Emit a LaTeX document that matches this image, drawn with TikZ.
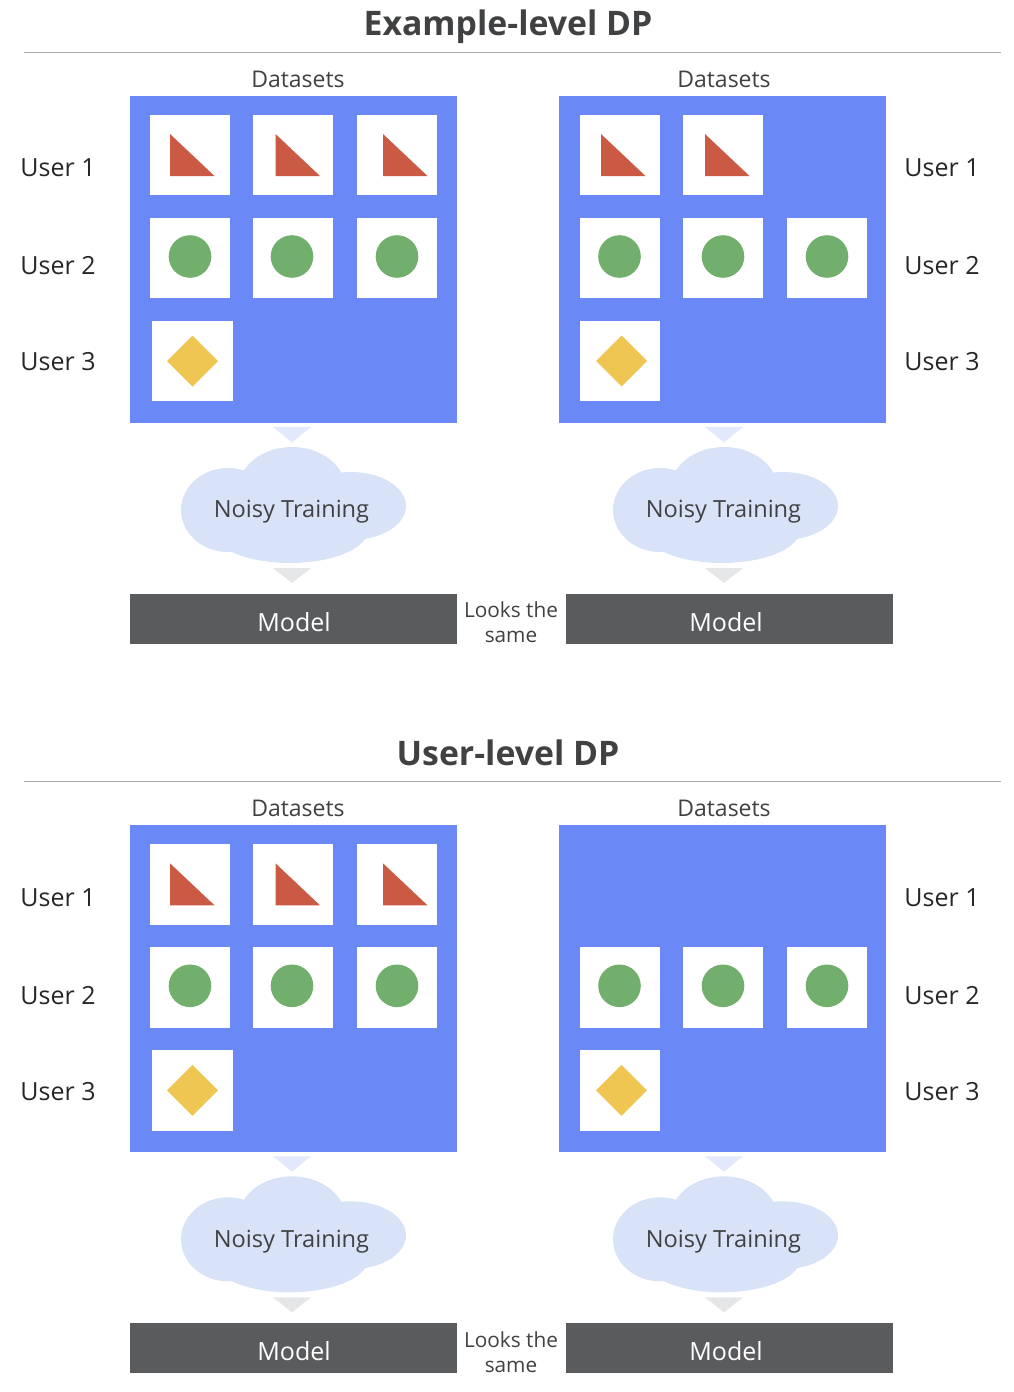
\documentclass[tikz,border=0pt]{standalone}
\usepackage{fontspec}
\setmainfont{Open Sans}
\definecolor{dsblue}{HTML}{6A89F6}
\definecolor{cloudblue}{HTML}{D9E3F7}
\definecolor{arrowblue}{HTML}{E3E9FC}
\definecolor{arrowgrey}{HTML}{E5E6E7}
\definecolor{barcol}{HTML}{5A5B5D}
\definecolor{redtri}{HTML}{CB5A45}
\definecolor{greencirc}{HTML}{72AF6D}
\definecolor{yellowdia}{HTML}{EEC651}
\definecolor{inkcol}{HTML}{404142}
\definecolor{rulecol}{HTML}{A9A9A9}
\tikzset{
  x=1pt,y=-1pt,
  txt/.style={inner sep=0pt,text=inkcol,align=center},
  titletxt/.style={txt,font=\fontsize{33.8}{40}\selectfont\bfseries},
  headtxt/.style={txt,font=\fontsize{23}{27}\selectfont},
  usertxt/.style={txt,text=black!85,font=\fontsize{25}{30}\selectfont},
  cloudtxt/.style={txt,font=\fontsize{23.6}{28}\selectfont},
  looks/.style={txt,font=\fontsize{20.8}{25}\selectfont},
  dataset/.style={fill=dsblue,draw=none,minimum width=327pt,minimum height=327pt,inner sep=0pt,anchor=north west},
  cell/.style={fill=white,draw=none,minimum width=80.5pt,minimum height=80.5pt,inner sep=0pt,anchor=north west},
  bar/.style={fill=barcol,draw=none,minimum height=50pt,inner sep=0pt,anchor=north west},
  modeltxt/.style={text=white,inner sep=0pt,font=\fontsize{25}{30}\selectfont},
  rtri/.style={fill=redtri},
  gcirc/.style={fill=greencirc},
  ydia/.style={fill=yellowdia},
}
\newcommand{\trishape}[2]{\fill[rtri] (#1,#2) -- (#1,#2+42) -- (#1+44.5,#2+42) -- cycle;}
\newcommand{\circshape}[2]{\fill[gcirc] (#1,#2) circle[radius=21.3];}
\newcommand{\diashape}[2]{\fill[ydia] (#1-25.5,#2) -- (#1,#2-25.5) -- (#1+25.5,#2) -- (#1,#2+25.5) -- cycle;}
\newcommand{\cloudshape}[1]{%
  \begin{scope}[xshift=#1 pt]
  \fill[cloudblue] (228,510) ellipse[x radius=47,y radius=42];
  \fill[cloudblue] (351,506) ellipse[x radius=55,y radius=34];
  \fill[cloudblue] (292,490) ellipse[x radius=54,y radius=43];
  \fill[cloudblue] (290,530) ellipse[x radius=78,y radius=33];
  \fill[cloudblue] (240,480) rectangle (345,530);
  \end{scope}}
\newcommand{\flow}[5]{% prefix, shift, bar x, bar w, bar text cx
  \fill[arrowblue] (273+#2,427) -- (311+#2,427) -- (292+#2,442.5) -- cycle;
  \cloudshape{#2}
  \node[cloudtxt] (#1cl) at (291.5+#2,512) {Noisy Training};
  \fill[arrowgrey] (273+#2,568) -- (311+#2,568) -- (292+#2,583) -- cycle;
  \node[bar,minimum width=#4 pt] (#1bar) at (#3,593.6) {};
  \node[modeltxt] (#1mod) at (#5,622) {Model};
}
\newcommand{\labelsset}[2]{%
  \node[usertxt] (#1a) at (#2,168) {User 1};
  \node[usertxt] (#1b) at (#2,266) {User 2};
  \node[usertxt] (#1c) at (#2,362) {User 3};
}
\newcommand{\leftpanel}[1]{%
  \node[headtxt] (#1dh) at (298,79) {Datasets};
  \node[dataset] (#1d) at (129.3,95.5) {};
  \foreach \cx/\tx/\ccx [count=\i] in {149.5/170/190,252.6/275.5/292,356.6/383/397}{
    \node[cell] (#1u\i) at (\cx,114.6) {};
    \trishape{\tx}{134}
    \node[cell] (#1v\i) at (\cx,217.6) {};
    \circshape{\ccx}{256.5}
  }
  \node[cell] (#1k) at (151.8,320.6) {};
  \diashape{192.5}{361}
}
\newcommand{\rightpanel}[2]{%
  \node[headtxt] (#1dh) at (724,79) {Datasets};
  \node[dataset] (#1d) at (559.2,95.5) {};
  \ifnum#2=1
  \foreach \cx/\tx [count=\i] in {579.5/601,682.6/705}{
    \node[cell] (#1u\i) at (\cx,114.6) {};
    \trishape{\tx}{134}
  }
  \fi
  \foreach \cx/\ccx [count=\i] in {579.5/619.5,682.6/723,786.6/827}{
    \node[cell] (#1v\i) at (\cx,217.6) {};
    \circshape{\ccx}{256.5}
  }
  \node[cell] (#1k) at (579.6,320.6) {};
  \diashape{621.5}{361}
}
\newcommand{\dpblock}[5]{%
  \begin{scope}[yshift=-#1 pt]
  \node[titletxt] (#2t) at (508,#5) {#3};
  \coordinate (#2r1) at (24,52.6);
  \coordinate (#2r2) at (1001,52.6);
  \draw[rulecol,line width=0.9pt] (#2r1) -- (#2r2);
  \labelsset{#2l}{58}
  \labelsset{#2r}{942}
  \leftpanel{#2p}
  \rightpanel{#2q}{#4}
  \flow{#2f}{0}{129.3}{327}{294}
  \flow{#2g}{432}{566}{327}{726}
  \node[looks] (#2s) at (511,622.5) {Looks the\\same};
  \end{scope}}
\begin{document}
\begin{tikzpicture}
\useasboundingbox (0,0) rectangle (1014,1392);
\dpblock{0}{A}{Example-level DP}{1}{27}
\dpblock{729.3}{B}{User-level DP}{0}{23.5}
\end{tikzpicture}
\end{document}
